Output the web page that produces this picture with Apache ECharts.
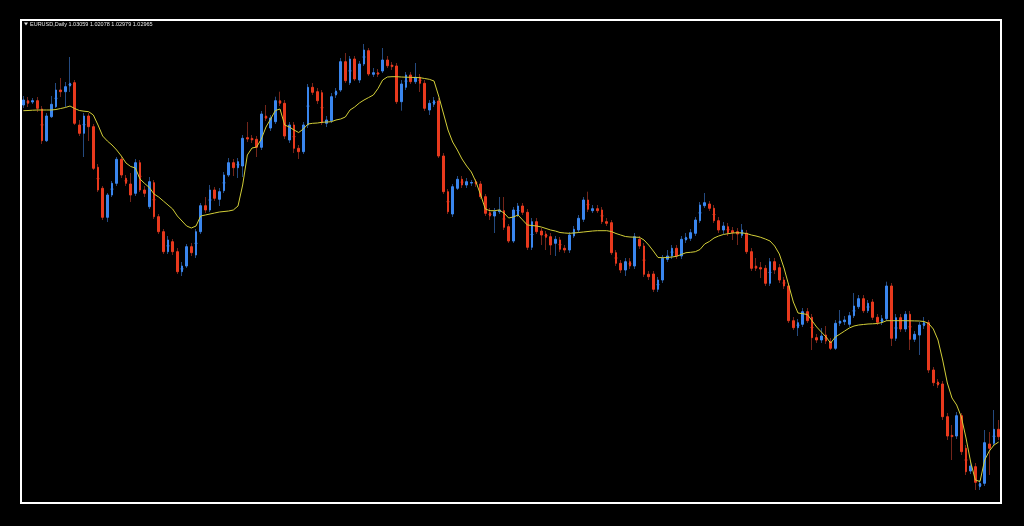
<!DOCTYPE html>
<html><head><meta charset="utf-8">
<script src="https://cdn.jsdelivr.net/npm/echarts/dist/echarts.min.js"></script>
<style>html,body{margin:0;padding:0;background:#000;}#c{width:1024px;height:526px;}</style>
</head><body><div id="c"></div>
<script>
const open = [
1.1975,1.19965,1.199,1.19965,1.1955,1.17965,1.19165,1.19665,1.205,1.20415,
1.207,1.20865,1.1875,1.18335,1.192,1.18665,1.16635,1.15585,1.14135,1.1525,
1.15835,1.17035,1.16085,1.158,1.15335,1.16865,1.155,1.14665,1.15865,1.14165,
1.13415,1.12415,1.12915,1.12415,1.11415,1.117,1.12665,1.1225,1.13415,1.14715,
1.145,1.155,1.15035,1.15465,1.1625,1.16865,1.16615,1.167,1.18115,1.18085,
1.18035,1.17635,1.192,1.186,1.18915,1.19965,1.19835,1.18,1.1875,1.17585,
1.17415,1.1875,1.20635,1.20415,1.20365,1.18835,1.18965,1.2025,1.205,1.21915,
1.20865,1.2205,1.21,1.218,1.22465,1.21285,1.21365,1.2145,1.22,1.2175,
1.217,1.19915,1.20635,1.2125,1.20915,1.21135,1.20835,1.195,1.19785,1.1995,
1.172,1.15415,1.143,1.15585,1.16035,1.1575,1.1585,1.15915,1.158,1.15165,
1.14365,1.142,1.14415,1.14465,1.13665,1.1295,1.1425,1.147,1.14385,1.12635,
1.13915,1.1345,1.133,1.13165,1.12835,1.13,1.12585,1.125,1.132,1.135,
1.14035,1.15,1.14465,1.14565,1.145,1.13915,1.13865,1.12365,1.11835,1.115,
1.11915,1.117,1.13035,1.127,1.11285,1.113,1.10535,1.11,1.12035,1.122,
1.12585,1.122,1.13,1.13085,1.13335,1.13965,1.14715,1.148,1.14585,1.13965,
1.135,1.13665,1.13465,1.13415,1.13235,1.13335,1.12415,1.117,1.11615,1.11585,
1.10835,1.11915,1.11615,1.11,1.107,1.08965,1.08615,1.08785,1.09415,1.09135,
1.08115,1.08,1.0825,1.07915,1.07585,1.08835,1.08915,1.08785,1.09215,1.09665,
1.10065,1.09465,1.099,1.09135,1.08885,1.09065,1.107,1.08085,1.09115,1.0855,
1.09285,1.08035,1.0825,1.08715,1.08865,1.065,1.059,1.058,1.04165,1.03235,
1.032,1.04215,1.02585,1.0145,1.01665,1.00665,1.00835,1.028,1.02835,1.03535
];
const close = [
1.2,1.19835,1.19965,1.19585,1.17965,1.192,1.19785,1.205,1.20415,1.20665,
1.20835,1.18835,1.18335,1.192,1.18665,1.16585,1.155,1.14135,1.1525,1.15835,
1.17035,1.1625,1.15835,1.1525,1.16865,1.155,1.15335,1.15915,1.14165,1.13415,
1.12415,1.13,1.12415,1.11415,1.117,1.12665,1.12365,1.13415,1.14715,1.145,
1.155,1.15085,1.15415,1.1625,1.16865,1.16615,1.16915,1.18085,1.1805,1.18,
1.17635,1.193,1.19085,1.191,1.19965,1.19835,1.182,1.1875,1.17585,1.17415,
1.1875,1.20635,1.20385,1.19965,1.18865,1.19,1.20165,1.2045,1.21915,1.20965,
1.2205,1.2105,1.218,1.225,1.213,1.21365,1.21285,1.22,1.21715,1.21665,
1.19915,1.208,1.2125,1.20915,1.21135,1.20835,1.19585,1.19835,1.19965,1.172,
1.15415,1.14415,1.15665,1.16035,1.1575,1.15915,1.15875,1.158,1.15165,1.14335,
1.142,1.14415,1.145,1.13635,1.1295,1.145,1.147,1.14385,1.12635,1.13915,
1.13415,1.1325,1.13135,1.1275,1.13035,1.12535,1.125,1.1325,1.13535,1.14085,
1.15,1.14535,1.14565,1.14465,1.13915,1.13835,1.12365,1.11835,1.115,1.11915,
1.117,1.13165,1.127,1.11285,1.11165,1.10535,1.11,1.12085,1.122,1.12585,
1.122,1.13035,1.13135,1.13365,1.14,1.1475,1.14865,1.14585,1.13965,1.135,
1.137,1.13365,1.13365,1.133,1.135,1.12415,1.11585,1.11585,1.1155,1.10835,
1.11915,1.115,1.11,1.107,1.08965,1.08615,1.08865,1.09415,1.08965,1.08115,
1.08,1.082,1.0795,1.07585,1.08835,1.0895,1.09,1.09215,1.097,1.10065,
1.09465,1.09835,1.09135,1.08885,1.09065,1.107,1.08085,1.09115,1.0855,1.09285,
1.08035,1.08285,1.0875,1.08865,1.065,1.05865,1.0575,1.04165,1.032,1.03165,
1.04215,1.02415,1.01415,1.017,1.00885,1.00835,1.02865,1.02585,1.03535,1.03165
];
const low = [
1.196,1.1965,1.198,1.194,1.178,1.179,1.191,1.196,1.2015,1.1965,
1.204,1.1875,1.182,1.1715,1.1795,1.165,1.154,1.14,1.139,1.1515,
1.157,1.161,1.157,1.149,1.152,1.154,1.1515,1.1455,1.1405,1.133,
1.123,1.123,1.1225,1.113,1.112,1.116,1.122,1.121,1.133,1.1435,
1.144,1.1495,1.147,1.1535,1.1615,1.162,1.161,1.1615,1.179,1.1785,
1.1715,1.175,1.1895,1.1845,1.188,1.197,1.1805,1.1785,1.1735,1.1705,
1.173,1.186,1.2025,1.198,1.1875,1.1865,1.1885,1.201,1.204,1.2085,
1.2075,1.2095,1.2085,1.217,1.212,1.2115,1.2115,1.2135,1.216,1.215,
1.198,1.19465,1.205,1.208,1.208,1.204,1.1945,1.1925,1.1965,1.171,
1.153,1.143,1.1415,1.155,1.156,1.156,1.157,1.1565,1.1505,1.142,
1.14,1.1335,1.143,1.135,1.1285,1.1285,1.1415,1.1425,1.125,1.125,
1.133,1.1275,1.125,1.1225,1.122,1.124,1.1235,1.1235,1.131,1.1335,
1.139,1.144,1.1435,1.1435,1.138,1.137,1.1225,1.117,1.1135,1.112,
1.1155,1.1155,1.1255,1.1115,1.11,1.104,1.104,1.1085,1.119,1.1205,
1.1205,1.1205,1.1285,1.1295,1.132,1.1385,1.146,1.1445,1.1385,1.1335,
1.133,1.132,1.13,1.1275,1.131,1.123,1.1145,1.1145,1.111,1.107,
1.107,1.113,1.1085,1.1055,1.0885,1.085,1.082,1.0865,1.0885,1.075,
1.0785,1.0785,1.078,1.075,1.075,1.087,1.0875,1.0865,1.091,1.0955,
1.0935,1.0935,1.09,1.0875,1.0875,1.0895,1.077,1.0795,1.084,1.084,
1.075,1.079,1.0725,1.0855,1.0635,1.057,1.056,1.04,1.03,1.02,
1.0305,1.0225,1.0125,1.013,1.005,1.005,1.007,1.0125,1.027,1.03
];
const high = [
1.202,1.2015,1.201,1.2015,1.197,1.1935,1.202,1.2085,1.211,1.209,
1.2215,1.21,1.19,1.1935,1.1935,1.188,1.168,1.157,1.1535,1.1595,
1.1715,1.1715,1.1625,1.1635,1.1705,1.17,1.157,1.1615,1.16,1.143,
1.1355,1.132,1.1305,1.126,1.119,1.128,1.1285,1.1355,1.1485,1.1515,
1.1575,1.1565,1.156,1.164,1.171,1.1705,1.171,1.1825,1.189,1.1825,
1.182,1.1945,1.1975,1.1925,1.20165,1.20415,1.2,1.189,1.189,1.1775,
1.189,1.208,1.2085,1.206,1.205,1.192,1.2035,1.206,1.221,1.2235,
1.222,1.222,1.2195,1.228,1.226,1.216,1.2155,1.226,1.222,1.219,
1.2185,1.21,1.214,1.214,1.2185,1.213,1.21,1.2,1.2015,1.201,
1.1735,1.1555,1.158,1.162,1.162,1.161,1.16,1.1605,1.1595,1.153,
1.146,1.146,1.1515,1.1515,1.138,1.1465,1.1485,1.1485,1.1455,1.141,
1.141,1.136,1.1345,1.1335,1.132,1.1315,1.1275,1.134,1.137,1.1425,
1.1515,1.15415,1.1475,1.1475,1.1465,1.141,1.14,1.125,1.12,1.121,
1.121,1.1335,1.132,1.1285,1.1145,1.1145,1.1115,1.1225,1.125,1.1275,
1.1275,1.132,1.1335,1.1355,1.1415,1.149,1.1535,1.1495,1.1475,1.1415,
1.139,1.1385,1.1365,1.136,1.138,1.135,1.126,1.121,1.119,1.1175,
1.121,1.121,1.118,1.1115,1.1085,1.0915,1.0905,1.096,1.096,1.093,
1.083,1.086,1.087,1.081,1.09,1.095,1.092,1.094,1.1035,1.1025,
1.1025,1.1,1.1005,1.093,1.0925,1.10915,1.1085,1.093,1.093,1.0945,
1.0945,1.0845,1.089,1.0915,1.09,1.0665,1.0605,1.0595,1.0435,1.0375,
1.044,1.0435,1.0275,1.019,1.0185,1.01,1.035,1.034,1.045,1.04
];
const ma = [
1.19465,1.19475,1.1949,1.195,1.195,1.195,1.195,1.19525,1.19575,1.19625,
1.197,1.19575,1.19475,1.1944,1.19415,1.1925,1.1875,1.182,1.1795,1.1775,
1.175,1.172,1.1685,1.16675,1.166,1.1605,1.15825,1.15625,1.153,1.1515,
1.1495,1.1475,1.1455,1.142,1.1395,1.137,1.136,1.137,1.142,1.1425,
1.143,1.1435,1.144,1.14425,1.1445,1.145,1.147,1.1575,1.1725,1.176,
1.1765,1.1805,1.1865,1.1905,1.19475,1.1955,1.1875,1.1865,1.185,1.18375,
1.1855,1.188,1.18835,1.1885,1.18885,1.189,1.18915,1.19,1.1905,1.1915,
1.195,1.1965,1.1985,1.2,1.20125,1.2025,1.20575,1.21,1.2115,1.21165,
1.21165,1.2115,1.2114,1.21135,1.21125,1.21115,1.21075,1.21035,1.2095,1.202,
1.1935,1.185,1.179,1.175,1.1705,1.167,1.164,1.159,1.1525,1.1455,
1.14465,1.14465,1.145,1.1435,1.141,1.1415,1.1425,1.14,1.1375,1.13725,
1.137,1.1365,1.13575,1.135,1.1345,1.13375,1.1335,1.13335,1.1335,1.13375,
1.134,1.13425,1.1345,1.13465,1.13465,1.13465,1.13425,1.13325,1.1325,1.13175,
1.1315,1.1314,1.13135,1.13,1.1275,1.1245,1.12125,1.12115,1.12125,1.1215,
1.12185,1.12275,1.12365,1.12385,1.12415,1.12525,1.128,1.12925,1.131,1.132,
1.13275,1.13315,1.1335,1.13365,1.1335,1.13325,1.1325,1.132,1.13135,1.1305,
1.1295,1.127,1.123,1.116,1.1075,1.099,1.0935,1.09315,1.09275,1.08965,
1.0865,1.084,1.0815,1.0785,1.0815,1.083,1.0845,1.086,1.087,1.0875,
1.08775,1.088,1.0881,1.08825,1.08875,1.08965,1.08965,1.08965,1.08965,1.08965,
1.0896,1.08955,1.0895,1.08925,1.08825,1.0855,1.08,1.07,1.0585,1.051,
1.0475,1.0415,1.031,1.019,1.01,1.00925,1.02,1.0245,1.0275,1.029
];
const categories = open.map((_, i) => 'D' + (i + 1));
const titleText = 'EURUSD,Daily 1.03059 1.02078 1.02979 1.02965';

const UP = '#3a86ee', DOWN = '#e8391d', UPW = '#244a80', DOWNW = '#74251a';

const wickData = open.map((o, i) => {
  const mid = (o + close[i]) / 2;
  const c = close[i] >= o ? UPW : DOWNW;
  return { value: [mid, mid, low[i], high[i]],
    itemStyle: { color: c, color0: c, borderColor: c, borderColor0: c, borderColorDoji: c } };
});
const bodyData = open.map((o, i) => [o, close[i], Math.min(o, close[i]), Math.max(o, close[i])]);

const chart = echarts.init(document.getElementById('c'), null, { renderer: 'canvas' });
chart.setOption({
  backgroundColor: '#000',
  animation: false,
  grid: { left: 21, top: 20, width: 980, height: 483, show: true, borderColor: '#ffffff', borderWidth: 2, backgroundColor: 'transparent' },
  xAxis: { type: 'category', data: categories, boundaryGap: true,
    axisLine: { show: false }, axisTick: { show: false }, axisLabel: { show: false }, splitLine: { show: false } },
  yAxis: { type: 'value', min: 0.9985, max: 1.24,
    axisLine: { show: false }, axisTick: { show: false }, axisLabel: { show: false }, splitLine: { show: false } },
  series: [
    { type: 'candlestick', data: wickData, barWidth: 3, itemStyle: { borderWidth: 1 }, z: 2 },
    { type: 'candlestick', data: bodyData, barWidth: 2,
      itemStyle: { color: UP, color0: DOWN, borderColor: UP, borderColor0: DOWN, borderColorDoji: UP, borderWidth: 1 }, z: 3 },
    { type: 'line', data: ma, showSymbol: false, symbol: 'none', smooth: false,
      lineStyle: { color: '#d2ce38', width: 1 }, z: 4 }
  ],
  graphic: [
    { type: 'polygon', shape: { points: [[24, 22.5], [28, 22.5], [26, 25.5]] }, style: { fill: '#e0e0e0' } },
    { type: 'text', left: 30, top: 21, style: { text: titleText, fill: '#e6e6e6', font: '5.5px "Liberation Sans", Arial, sans-serif' } }
  ]
});
</script>
</body></html>
